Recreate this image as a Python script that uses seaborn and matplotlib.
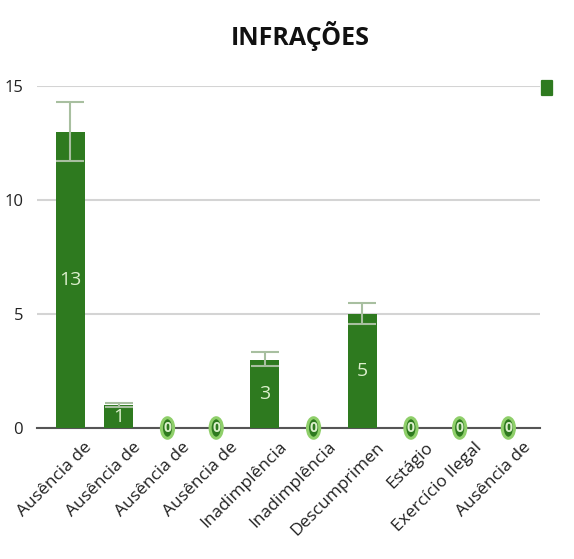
import matplotlib
matplotlib.use("Agg")
import matplotlib.pyplot as plt
import matplotlib.transforms as mtrans
import seaborn as sns
import pandas as pd
from matplotlib.patches import Ellipse, FancyBboxPatch

categories = ["Ausência de", "Ausência de ", "Ausência de  ", "Ausência de   ",
              "Inadimplência", "Inadimplência ", "Descumprimen", "Estágio",
              "Exercício Ilegal", "Ausência de    "]
tick_labels = ["Ausência de", "Ausência de", "Ausência de", "Ausência de",
               "Inadimplência", "Inadimplência", "Descumprimen", "Estágio",
               "Exercício Ilegal", "Ausência de"]
values = [13, 1, 0, 0, 3, 0, 5, 0, 0, 0]
err_low = [1.3, 0.1, 0, 0, 0.3, 0, 0.45, 0, 0, 0]
err_high = [1.3, 0.1, 0, 0, 0.35, 0, 0.5, 0, 0, 0]

title = "INFRAÇÕES"
bar_color = "#2e7a1f"
light_green = "#dcefcc"

df = pd.DataFrame({"cat": categories, "val": values})

sns.set_style("white")
plt.rcParams['font.family'] = ['Open Sans', 'DejaVu Sans']

fig = plt.figure(figsize=(5.74, 5.59), dpi=100)
ax = fig.add_axes([37/574, 1 - 428/559, (540-37)/574, (428-86)/559])

sns.barplot(data=df, x="cat", y="val", color=bar_color, saturation=1,
            width=0.6, ax=ax, errorbar=None, zorder=3, linewidth=0)

xs = list(range(len(values)))
nz = [i for i, v in enumerate(values) if v > 0]
ax.errorbar([xs[i] for i in nz], [values[i] for i in nz],
            yerr=[[err_low[i] for i in nz], [err_high[i] for i in nz]],
            fmt="none", ecolor="#a8bfa0", elinewidth=1.5, capsize=10,
            capthick=1.5, zorder=4)

ax.set_ylim(0, 15)
ax.set_xlim(-0.68, 9.65)
ax.set_yticks([0, 5, 10, 15])
ax.yaxis.grid(True, color="#d4d4d4", linewidth=1.5, zorder=0)
ax.set_axisbelow(True)
for s in ["top", "right", "left"]:
    ax.spines[s].set_visible(False)
ax.spines["bottom"].set_color("#555555")
ax.spines["bottom"].set_linewidth(1.5)
ax.spines["bottom"].set_zorder(2)
ax.tick_params(axis="y", length=0, labelsize=12, pad=10, colors="#222222")
ax.tick_params(axis="x", length=0, pad=6)
ax.set_xticks(xs)
ax.set_xticklabels(tick_labels, rotation=45, ha="right", rotation_mode="anchor",
                   fontsize=12.5, color="#222222")
offset = mtrans.ScaledTranslation(10/72, -2/72, fig.dpi_scale_trans)
for lab in ax.get_xticklabels():
    lab.set_transform(lab.get_transform() + offset)
ax.set_xlabel("")
ax.set_ylabel("")

for i, v in enumerate(values):
    if v > 0:
        ax.text(i, v / 2, str(v), ha="center", va="center", color=light_green,
                fontsize=14, zorder=5)
    else:
        e = Ellipse((i, 0), width=0.25, height=0.9, facecolor=bar_color,
                    edgecolor="#8fcf6a", linewidth=2.2, zorder=6, clip_on=False)
        ax.add_patch(e)
        ax.text(i, 0, "0", ha="center", va="center", color=light_green,
                fontsize=10, fontweight="bold", zorder=7, clip_on=False)

fig.text(300/574, 1 - 36/559, title, ha="center", va="center",
         fontsize=18, fontweight="bold", color="#111111")

fig.patches.append(FancyBboxPatch((542/574, 1 - 95/559), 10/574, 14/559,
                                  boxstyle="round,pad=0.002",
                                  transform=fig.transFigure, facecolor=bar_color,
                                  edgecolor="none"))

fig.savefig("out.png", dpi=100)
